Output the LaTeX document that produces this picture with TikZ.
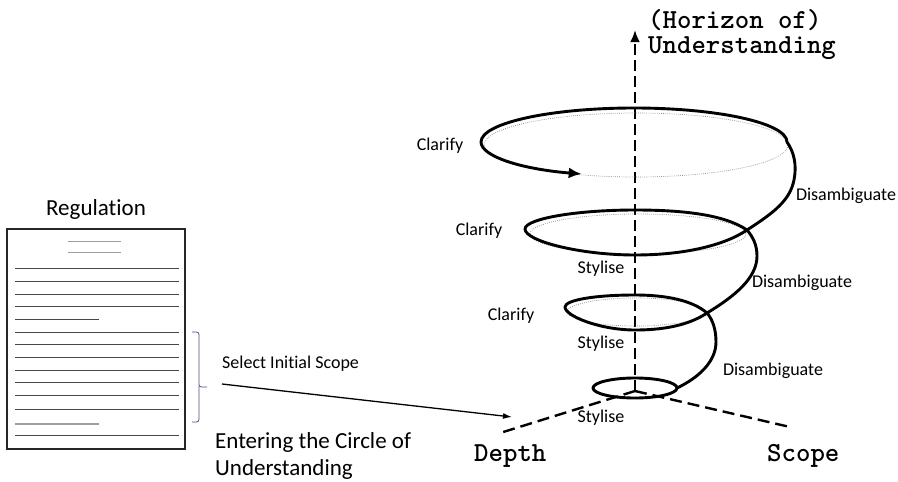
\documentclass[tikz,border=0pt]{standalone}
\usepackage{fontspec}
\setmainfont{Carlito}[Ligatures=NoCommon]
\usetikzlibrary{arrows.meta}
\begin{document}
\begin{tikzpicture}[x=1pt,y=-1pt,
  lbl/.style={font=\fontsize{18}{20}\selectfont, inner sep=0pt, anchor=base},
  biglbl/.style={font=\fontsize{23}{26}\selectfont, inner sep=0pt},
  axislbl/.style={font=\ttfamily\bfseries\fontsize{27.5}{30}\selectfont, inner sep=0pt, anchor=base west},
  bodyline/.style={draw=black!72, line width=0.9pt},
  greyline/.style={draw=black!38, line width=1.2pt},
  pagebox/.style={draw=black!85, line width=1.1pt},
  bracket/.style={draw=black!55!blue!40!gray, line width=0.8pt, rounded corners=2.5pt},
  axis/.style={draw=black, line width=2.4pt, dash pattern=on 11pt off 5pt},
  spiral/.style={draw=black, line width=2.9pt, line cap=round, line join=round},
  hidden/.style={draw=black!45, line width=0.7pt, dash pattern=on 0.8pt off 1.3pt},
  pointer/.style={draw=black, line width=1.3pt, -{Latex[length=9pt,width=6pt]}}]

\useasboundingbox (0,0) rectangle (898,482);

% ---- the regulation page ----
\node[biglbl, anchor=base] (reg) at (96,215) {Regulation};
\draw[pagebox] (7,229) rectangle (185,449);
\draw[greyline] (68,241.5) -- (121,241.5);
\draw[greyline] (68,252.5) -- (121,252.5);
\foreach \yy in {268.3,281,294,306.7,332.3,344.3,357.3,370,382.7,395.7,409.3,435.5}
  \draw[bodyline] (15,\yy) -- (179,\yy);
\draw[bodyline] (15,319) -- (99,319);
\draw[greyline] (15,424) -- (99,424);

% bracket marking the selected passage
\coordinate (brTop) at (192,332);
\coordinate (brBot) at (192,422);
\coordinate (brTip) at (207,387);
\draw[bracket] (brTop) -- (199,332) -- (199,387) -- (brTip);
\draw[bracket] (199,386) -- (199,422) -- (brBot);

% ---- entering the circle ----
\node[lbl, anchor=base west] (select) at (222,368) {Select Initial Scope};
\coordinate (selStart) at (222,384);
\coordinate (selEnd) at (512,417);
\draw[pointer] (selStart) -- (selEnd);
\node[biglbl, anchor=base west] (enter1) at (215,448) {Entering the Circle of};
\node[biglbl, anchor=base west] (enter2) at (215,475) {Understanding};

% ---- axes ----
\coordinate (O) at (635,391);
\coordinate (up) at (635,30);
\coordinate (depthEnd) at (500,433);
\coordinate (scopeEnd) at (790,427);
\draw[axis, -{Latex[length=12pt,width=10pt]}] (O) -- (up);
\draw[axis, dash pattern=on 12pt off 6pt] (O) -- (depthEnd);
\draw[axis, dash pattern=on 12pt off 6pt] (O) -- (scopeEnd);

\node[axislbl] (horizon1) at (648,28) {(Horizon of)};
\node[axislbl] (horizon2) at (648,53) {Understanding};
\node[axislbl] (depth) at (474,461) {Depth};
\node[axislbl] (scope) at (767,461) {Scope};

% ---- hidden reference rings ----
\draw[hidden] (636,145) ellipse [x radius=152pt, y radius=32pt];
\draw[hidden] (638,234) ellipse [x radius=108pt, y radius=20pt];
\draw[hidden] (636,312) ellipse [x radius=69pt, y radius=14pt];

% ---- the widening spiral ----
\draw[spiral, -{Latex[length=13pt,width=11pt]}]
  (677,388) .. controls (677,382.5) and (658.2,378) .. (635,378)
  .. controls (611.8,378) and (593,382.5) .. (593,388)
  .. controls (593,393.5) and (611.8,398) .. (635,398)
  .. controls (658.2,398) and (677,393.5) .. (677,388)
  .. controls (698,378) and (716,362) .. (716,342)
  .. controls (716,330) and (713,320) .. (707,313)
  .. controls (692,300) and (665,295) .. (635,295)
  .. controls (595,295) and (565,300) .. (565,307)
  .. controls (565,316) and (600,330) .. (635,330)
  .. controls (670,330) and (692,323) .. (707,313)
  .. controls (735,296) and (757,278) .. (757,256)
  .. controls (757,245) and (753,237) .. (747,230)
  .. controls (725,215) and (685,210) .. (635,210)
  .. controls (575,210) and (525,219) .. (525,229)
  .. controls (525,241) and (580,255) .. (635,255)
  .. controls (685,255) and (725,245) .. (747,230)
  .. controls (775,212) and (790,200) .. (794,180)
  .. controls (797,165) and (794,152) .. (787,142)
  .. controls (787,123.2) and (718.5,108) .. (634,108)
  .. controls (549.5,108) and (481,123.2) .. (481,142)
  .. controls (481,156.3) and (521.2,169.1) .. (581.7,174);

% ---- step labels ----
\node[lbl] (clar1) at (440,150) {Clarify};
\node[lbl] (clar2) at (479,235) {Clarify};
\node[lbl] (clar3) at (511,320) {Clarify};
\node[lbl] (dis1) at (846,200) {Disambiguate};
\node[lbl] (dis2) at (802,287) {Disambiguate};
\node[lbl] (dis3) at (773,375) {Disambiguate};
\node[lbl] (sty1) at (601,273) {Stylise};
\node[lbl] (sty2) at (601,348) {Stylise};
\node[lbl] (sty3) at (601,422) {Stylise};
\end{tikzpicture}
\end{document}
